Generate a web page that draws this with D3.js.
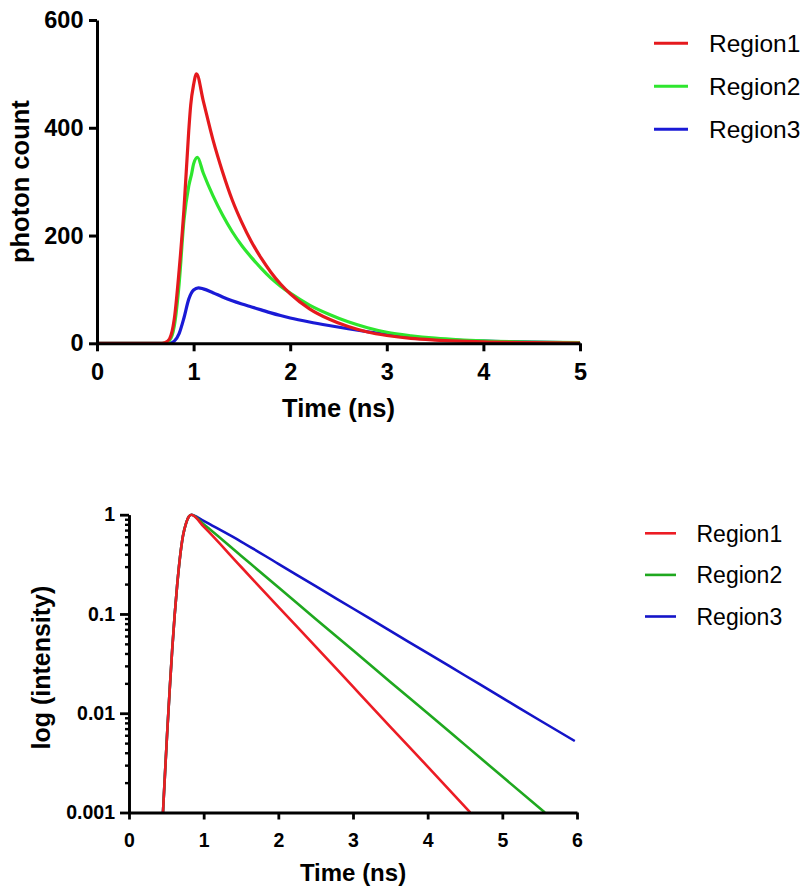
<!DOCTYPE html>
<html>
<head>
<meta charset="utf-8">
<script src="https://cdn.jsdelivr.net/npm/d3@7/dist/d3.min.js"></script>
<style>
  html, body { margin: 0; padding: 0; background: #ffffff; }
  svg { display: block; }
  text { font-family: "Liberation Sans", Arial, Helvetica, sans-serif; fill: #000; }
</style>
</head>
<body>
<svg id="chart" width="808" height="893"></svg>
<script>
// ---------- Data: photon-count decay curves (top panel) ----------
const seriesNames = ["Region1", "Region2", "Region3"];

// [time (ns), photon count]
const countRegion1 = [
  [0, 0], [0.65, 0], [0.70, 1], [0.75, 8], [0.80, 45], [0.85, 135], [0.90, 248],
  [0.95, 395], [0.97, 442], [1.00, 480], [1.03, 500], [1.10, 450], [1.20, 378],
  [1.30, 318], [1.40, 266], [1.50, 224], [1.60, 188], [1.70, 158], [1.80, 132],
  [1.90, 110], [2.00, 92], [2.20, 64], [2.40, 45], [2.60, 31], [2.80, 21],
  [3.00, 14.5], [3.25, 9], [3.50, 6], [3.75, 4], [4.00, 2.5], [4.50, 1.2], [5.00, 0.5]
];
const countRegion2 = [
  [0, 0], [0.65, 0], [0.70, 0.5], [0.75, 5], [0.80, 32], [0.85, 110], [0.90, 228],
  [0.95, 292], [0.98, 315], [1.00, 333], [1.04, 345], [1.10, 316], [1.20, 274],
  [1.30, 238], [1.40, 207], [1.50, 181], [1.60, 159], [1.70, 139], [1.80, 121],
  [1.90, 106], [2.00, 93], [2.20, 71], [2.40, 54], [2.60, 40], [2.80, 29],
  [3.00, 20.5], [3.25, 14], [3.50, 9.5], [3.75, 6.5], [4.00, 4.5], [4.50, 2.2], [5.00, 1.2]
];
const countRegion3 = [
  [0, 0], [0.70, 0], [0.75, 0], [0.80, 4], [0.85, 18], [0.90, 47], [0.95, 82],
  [1.00, 99], [1.05, 103], [1.10, 101], [1.20, 94], [1.30, 86], [1.40, 79],
  [1.50, 73], [1.60, 67.5], [1.70, 62], [1.80, 56.5], [1.90, 51.5], [2.00, 47],
  [2.20, 39.5], [2.40, 33], [2.60, 27], [2.80, 21.5], [3.00, 16.5], [3.25, 11.5],
  [3.50, 8], [3.75, 5.5], [4.00, 4], [4.50, 2], [5.00, 1]
];

const countTicksX = [0, 1, 2, 3, 4, 5];
const countTicksY = [0, 200, 400, 600];

// ---------- Data: normalised intensity, log scale (bottom panel) ----------
// [time (ns), normalised intensity]
const logRise = [
  [0.455, 0.001], [0.48, 0.0023], [0.51, 0.0061], [0.545, 0.0173], [0.58, 0.0455],
  [0.612, 0.0985], [0.645, 0.195], [0.679, 0.351], [0.723, 0.613], [0.768, 0.837],
  [0.80, 0.955], [0.835, 1.0]
];
const logRegion1 = logRise.concat([
  [1.0, 0.757], [1.5, 0.299], [2.0, 0.118], [2.5, 0.047], [3.0, 0.0185],
  [3.5, 0.0073], [4.0, 0.0029], [4.57, 0.001]
]);
const logRegion2 = logRise.concat([
  [1.0, 0.80], [1.5, 0.386], [2.0, 0.186], [2.5, 0.089], [3.0, 0.043],
  [3.5, 0.0206], [4.0, 0.010], [4.5, 0.0048], [5.0, 0.0023], [5.57, 0.001]
]);
const logRegion3 = logRise.concat([
  [0.86, 0.99], [1.0, 0.866], [1.5, 0.537], [2.0, 0.320], [2.5, 0.1905], [3.0, 0.1135],
  [3.5, 0.0676], [4.0, 0.0403], [4.5, 0.0240], [5.0, 0.0143], [5.5, 0.0085], [5.97, 0.00525]
]);

const logTicksX = [0, 1, 2, 3, 4, 5, 6];
const logTicksY = [1, 0.1, 0.01, 0.001];
const logTickLabels = ["1", "0.1", "0.01", "0.001"];

// ---------- Styling ----------
const topColors = ["#e5191d", "#2ee62e", "#1a1ad6"];
const bottomColors = ["#ec1c24", "#1fa81f", "#1414c8"];
const FONT = '"Liberation Sans", Arial, Helvetica, sans-serif';

const svg = d3.select("#chart");
svg.append("rect").attr("width", 808).attr("height", 893).attr("fill", "#fff");

function styleAxis(g, width, fontSize) {
  g.select(".domain").attr("stroke", "#000").attr("stroke-width", width);
  g.selectAll(".tick line").attr("stroke", "#000").attr("stroke-width", width);
  g.selectAll(".tick text")
    .attr("font-family", FONT)
    .attr("font-weight", "bold")
    .attr("font-size", fontSize)
    .attr("fill", "#000");
}

// ================= Top panel =================
const xTop = d3.scaleLinear().domain([0, 5]).range([97, 580]);
const yTop = d3.scaleLinear().domain([0, 600]).range([343.3, 20]);

const lineTop = d3.line()
  .x(d => xTop(d[0]))
  .y(d => yTop(d[1]))
  .curve(d3.curveMonotoneX);

const topSeries = [countRegion1, countRegion2, countRegion3];

// draw Region3 first so Region1 ends up on top
[2, 1, 0].forEach(i => {
  svg.append("path")
    .datum(topSeries[i])
    .attr("fill", "none")
    .attr("stroke", topColors[i])
    .attr("stroke-width", 3.2)
    .attr("stroke-linejoin", "round")
    .attr("d", lineTop);
});

const gxTop = svg.append("g")
  .attr("transform", `translate(0,${yTop(0)})`)
  .call(d3.axisBottom(xTop).tickValues(countTicksX).tickFormat(d3.format("d"))
    .tickSize(8).tickSizeOuter(0).tickPadding(12.5));
styleAxis(gxTop, 3, 23.5);

const gyTop = svg.append("g")
  .attr("transform", `translate(${xTop(0)},0)`)
  .call(d3.axisLeft(yTop).tickValues(countTicksY).tickFormat(d3.format("d"))
    .tickSize(8).tickSizeOuter(0).tickPadding(5.5));
styleAxis(gyTop, 3, 23.5);

svg.append("text")
  .attr("x", (xTop(0) + xTop(5)) / 2)
  .attr("y", 416.5)
  .attr("text-anchor", "middle")
  .attr("font-weight", "bold")
  .attr("font-size", 25.5)
  .text("Time (ns)");

svg.append("text")
  .attr("transform", `translate(29,${(yTop(0) + yTop(600)) / 2}) rotate(-90)`)
  .attr("text-anchor", "middle")
  .attr("font-weight", "bold")
  .attr("font-size", 25.5)
  .text("photon count");

// legend (top)
const legTop = svg.append("g");
seriesNames.forEach((name, i) => {
  const y = 43.3 + i * 43;
  legTop.append("line")
    .attr("x1", 654).attr("x2", 688).attr("y1", y).attr("y2", y)
    .attr("stroke", topColors[i]).attr("stroke-width", 3);
  legTop.append("text")
    .attr("x", 709).attr("y", y).attr("dy", "0.36em")
    .attr("font-size", 24.5)
    .text(name);
});

// ================= Bottom panel =================
const xBot = d3.scaleLinear().domain([0, 6]).range([129, 577]);
const yBot = d3.scaleLog().domain([0.001, 1]).range([812.5, 514.7]);

const lineBot = d3.line()
  .x(d => xBot(d[0]))
  .y(d => yBot(d[1]))
  .curve(d3.curveMonotoneX);

const botSeries = [logRegion1, logRegion2, logRegion3];
[2, 1, 0].forEach(i => {
  svg.append("path")
    .datum(botSeries[i])
    .attr("fill", "none")
    .attr("stroke", bottomColors[i])
    .attr("stroke-width", 2.6)
    .attr("stroke-linejoin", "round")
    .attr("d", lineBot);
});

// minor log ticks (2..9 within each decade)
const minorTicks = [];
[0.001, 0.01, 0.1].forEach(dec => {
  for (let k = 2; k <= 9; k++) minorTicks.push(dec * k);
});
const gyMinor = svg.append("g")
  .attr("transform", `translate(${xBot(0)},0)`)
  .call(d3.axisLeft(yBot).tickValues(minorTicks).tickFormat("").tickSize(4).tickSizeOuter(0));
styleAxis(gyMinor, 2.4, 0);

const gxBot = svg.append("g")
  .attr("transform", `translate(0,${yBot(0.001)})`)
  .call(d3.axisBottom(xBot).tickValues(logTicksX).tickFormat(d3.format("d"))
    .tickSize(7).tickSizeOuter(0).tickPadding(13.5));
styleAxis(gxBot, 2.8, 19.5);

const gyBot = svg.append("g")
  .attr("transform", `translate(${xBot(0)},0)`)
  .call(d3.axisLeft(yBot).tickValues(logTicksY)
    .tickFormat((d, i) => logTickLabels[i])
    .tickSize(9).tickSizeOuter(0).tickPadding(5));
styleAxis(gyBot, 2.8, 19.5);

svg.append("text")
  .attr("x", (xBot(0) + xBot(6)) / 2)
  .attr("y", 880.5)
  .attr("text-anchor", "middle")
  .attr("font-weight", "bold")
  .attr("font-size", 24)
  .text("Time (ns)");

svg.append("text")
  .attr("transform", `translate(50,${(yBot(1) + yBot(0.001)) / 2 + 4}) rotate(-90)`)
  .attr("text-anchor", "middle")
  .attr("font-weight", "bold")
  .attr("font-size", 25)
  .text("log (intensity)");

// legend (bottom)
const legBot = svg.append("g");
seriesNames.forEach((name, i) => {
  const y = 533.3 + i * 41.6;
  legBot.append("line")
    .attr("x1", 645).attr("x2", 676).attr("y1", y).attr("y2", y)
    .attr("stroke", bottomColors[i]).attr("stroke-width", 2.6);
  legBot.append("text")
    .attr("x", 696.5).attr("y", y).attr("dy", "0.36em")
    .attr("font-size", 23)
    .text(name);
});
</script>
</body>
</html>
